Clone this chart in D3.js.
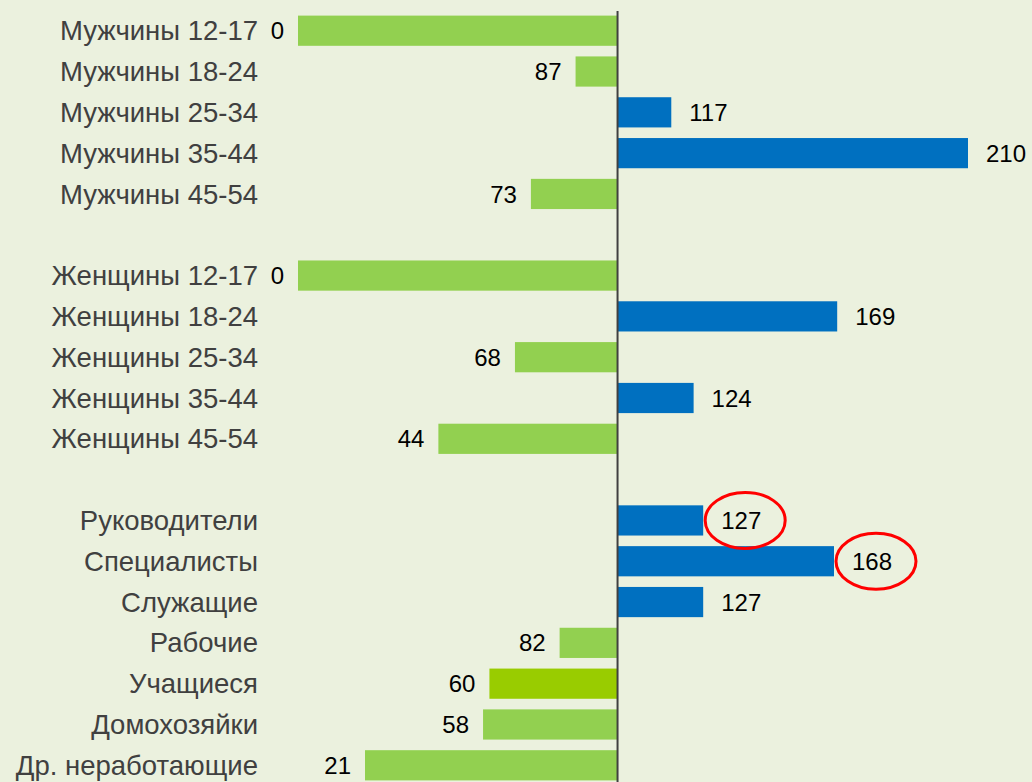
<!DOCTYPE html>
<html lang="ru">
<head>
    <meta charset="UTF-8">
    <title>Индекс соответствия</title>
    <script src="https://d3js.org/d3.v7.min.js"></script>
    <style>
        body { margin: 0; background: #EBF1DE; }
        svg { display: block; font-family: Arial, "Liberation Sans", sans-serif; }
    </style>
</head>
<body>
<svg id="main" width="1032" height="782"></svg>

<script>
    // data (index, 100 = average)
    const men = ['Мужчины 12-17', 'Мужчины 18-24', 'Мужчины 25-34', 'Мужчины 35-44', 'Мужчины 45-54'];
    const menValues = [0, 87, 117, 210, 73];

    const women = ['Женщины 12-17', 'Женщины 18-24', 'Женщины 25-34', 'Женщины 35-44', 'Женщины 45-54'];
    const womenValues = [0, 169, 68, 124, 44];

    const occupations = ['Руководители', 'Специалисты', 'Служащие', 'Рабочие', 'Учащиеся', 'Домохозяйки', 'Др. неработающие'];
    const occupationValues = [127, 168, 127, 82, 60, 58, 21];

    const baseline = 100;
    const accented = ['Учащиеся'];
    const circled = ['Руководители', 'Специалисты'];

    // rows with empty slots between the groups
    let rows = [];
    men.forEach((c, i) => rows.push({key: c, value: menValues[i]}));
    rows.push({key: 'gap1', gap: true});
    women.forEach((c, i) => rows.push({key: c, value: womenValues[i]}));
    rows.push({key: 'gap2', gap: true});
    occupations.forEach((c, i) => rows.push({key: c, value: occupationValues[i]}));
    let bars = rows.filter(d => !d.gap);

    let svg = d3.select('svg#main');

    let x = d3.scaleLinear()
        .domain([0, 210])
        .range([298, 968]);

    let y = d3.scaleBand()
        .domain(rows.map(d => d.key))
        .range([5, 791])
        .padding(0.26);

    function barColor(d) {
        if (accented.includes(d.key)) return '#99CC00';
        return d.value > baseline ? '#0070C0' : '#92D050';
    }

    svg.selectAll('rect.bar')
        .data(bars)
        .enter()
        .append('rect')
        .attr('class', 'bar')
        .attr('x', d => Math.min(x(d.value), x(baseline)))
        .attr('y', d => y(d.key))
        .attr('width', d => Math.abs(x(d.value) - x(baseline)))
        .attr('height', y.bandwidth())
        .style('fill', barColor);

    // vertical line at index 100
    svg.append('line')
        .attr('x1', x(baseline) + 0.5)
        .attr('x2', x(baseline) + 0.5)
        .attr('y1', 11)
        .attr('y2', 782)
        .style('stroke', '#404040')
        .style('stroke-width', 2);

    // category labels
    svg.selectAll('text.cat')
        .data(bars)
        .enter()
        .append('text')
        .attr('class', 'cat')
        .attr('x', 258)
        .attr('y', d => y(d.key) + y.bandwidth() / 2)
        .attr('dy', '0.35em')
        .attr('text-anchor', 'end')
        .style('font-size', '27.5px')
        .style('fill', '#404040')
        .text(d => d.key);

    // value labels
    function labelX(d) {
        return d.value > baseline ? x(d.value) + 18 : x(d.value) - 14;
    }

    svg.selectAll('text.val')
        .data(bars)
        .enter()
        .append('text')
        .attr('class', 'val')
        .attr('x', labelX)
        .attr('y', d => y(d.key) + y.bandwidth() / 2)
        .attr('dy', '0.36em')
        .attr('text-anchor', d => d.value > baseline ? 'start' : 'end')
        .style('font-size', '24px')
        .style('fill', '#000')
        .text(d => d.value);

    // red ovals around the highlighted values
    svg.selectAll('ellipse.mark')
        .data(bars.filter(d => circled.includes(d.key)))
        .enter()
        .append('ellipse')
        .attr('class', 'mark')
        .attr('cx', d => labelX(d) + 24)
        .attr('cy', d => y(d.key) + y.bandwidth() / 2)
        .attr('rx', 40)
        .attr('ry', 28)
        .style('fill', 'none')
        .style('stroke', '#FF0000')
        .style('stroke-width', 3);
</script>
</body>
</html>
